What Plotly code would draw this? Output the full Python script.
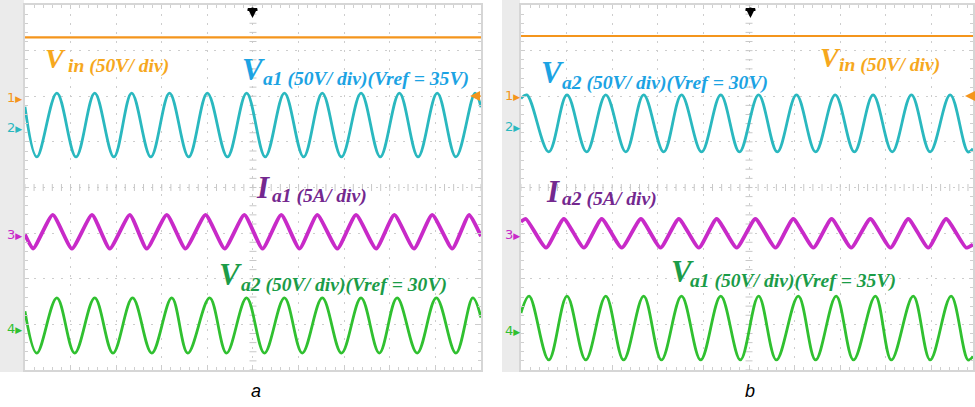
import plotly.graph_objects as go

W, H = 975, 407

# ---------------- data (time / level in scope divisions) ----------------
# Panel (a): time axis 0..10 div, level axis 0..8 div
a_vin_level = 7.29
a_va1_peaks = [0.70, 1.53, 2.34, 3.17, 4.00, 4.86, 5.69, 6.52, 7.37, 8.21, 9.04, 9.87]
a_va1_troughs = [0.26, 1.12, 1.95, 2.76, 3.59, 4.44, 5.27, 6.11, 6.94, 7.79, 8.62, 9.45]
a_va1_hi, a_va1_lo, a_va1_start, a_va1_end = 6.07, 4.67, 5.77, 5.76

a_ia1_peaks = [0.61, 1.47, 2.30, 3.11, 3.96, 4.81, 5.62, 6.41, 7.26, 8.10, 8.93, 9.74]
a_ia1_troughs = [0.18, 1.03, 1.86, 2.67, 3.52, 4.38, 5.21, 6.02, 6.85, 7.70, 8.53, 9.37]
a_ia1_hi, a_ia1_lo, a_ia1_start, a_ia1_end = 3.40, 2.66, 2.97, 2.93

a_va2_peaks = [0.70, 1.53, 2.36, 3.22, 4.05, 4.86, 5.69, 6.52, 7.37, 8.16, 9.02, 9.82]
a_va2_troughs = [0.26, 1.09, 1.93, 2.78, 3.57, 4.42, 5.25, 6.08, 6.94, 7.77, 8.60, 9.45]
a_va2_hi, a_va2_lo, a_va2_start, a_va2_end = 1.58, 0.37, 1.29, 1.15

# Panel (b): time axis 0..9.91 div visible
b_t_end = 9.91
b_vin_level = 7.32
b_va2_peaks = [0.13, 1.01, 1.86, 2.69, 3.52, 4.38, 5.21, 6.04, 6.89, 7.72, 8.56, 9.41]
b_va2_troughs = [0.61, 1.44, 2.30, 3.13, 3.96, 4.79, 5.62, 6.46, 7.31, 8.14, 8.97, 9.80]
b_va2_hi, b_va2_lo, b_va2_start, b_va2_end = 6.03, 4.78, 5.95, 4.85

b_ia2_peaks = [0.11, 0.94, 1.77, 2.63, 3.46, 4.29, 5.14, 5.97, 6.81, 7.66, 8.49, 9.32]
b_ia2_troughs = [0.55, 1.38, 2.21, 3.06, 3.90, 4.73, 5.58, 6.41, 7.24, 8.10, 8.93, 9.76]
b_ia2_hi, b_ia2_lo, b_ia2_start, b_ia2_end = 3.31, 2.68, 3.25, 2.75

b_va1_peaks = [0.18, 1.01, 1.86, 2.69, 3.52, 4.38, 5.21, 6.08, 6.91, 7.77, 8.60, 9.43]
b_va1_troughs = [0.61, 1.42, 2.25, 3.08, 3.94, 4.81, 5.60, 6.46, 7.29, 8.12, 8.97, 9.80]
b_va1_hi, b_va1_lo, b_va1_start, b_va1_end = 1.62, 0.22, 1.25, 0.30

channel_names = ["1", "2", "3", "4"]
captions = ["a", "b"]

# ---------------- styling ----------------
C_ORANGE = "#f4951c"
C_CYAN = "#2ab8bf"
C_MAGENTA = "#c82ac8"
C_GREEN = "#30c030"
T_ORANGE = "#f6a81e"
T_BLUE = "#1ca3e3"
T_PURPLE = "#74288f"
T_GREEN = "#1b9c48"


def px_x(p):
    return p / W


def px_y(p):
    return 1 - p / H


def wave(start, peaks, troughs, hi, lo, end, t_end):
    pts = [(0.0, start)] + [(t, hi) for t in peaks] + [(t, lo) for t in troughs] + [(t_end, end)]
    pts.sort()
    return [p[0] for p in pts], [p[1] for p in pts]


fig = go.Figure()

# centre-line tick marks of the graticule (drawn first, under the traces)
for xa, ya, tmax in (("x", "y", 10), ("x2", "y2", b_t_end)):
    n = int(tmax / 0.2) + 1
    fig.add_trace(go.Scatter(x=[i * 0.2 for i in range(n)], y=[4] * n, xaxis=xa, yaxis=ya,
                             mode="markers", marker=dict(symbol="line-ns", size=5,
                             line=dict(width=1, color="#c8c8c8")), hoverinfo="skip", showlegend=False))
    fig.add_trace(go.Scatter(x=[5] * 41, y=[i * 0.2 for i in range(41)], xaxis=xa, yaxis=ya,
                             mode="markers", marker=dict(symbol="line-ew", size=5,
                             line=dict(width=1, color="#c8c8c8")), hoverinfo="skip", showlegend=False))


def add_wave(xa, ya, t, v, color, width, shape, smoothing=1.0):
    fig.add_trace(go.Scatter(x=t, y=v, xaxis=xa, yaxis=ya, mode="lines",
                             line=dict(color=color, width=width, shape=shape, smoothing=smoothing),
                             hoverinfo="skip", showlegend=False))


# panel a
add_wave("x", "y", [0, 10], [a_vin_level, a_vin_level], C_ORANGE, 2.2, "linear")
t, v = wave(a_va1_start, a_va1_peaks, a_va1_troughs, a_va1_hi, a_va1_lo, a_va1_end, 10)
add_wave("x", "y", t, v, C_CYAN, 2.8, "spline")
t, v = wave(a_ia1_start, a_ia1_peaks, a_ia1_troughs, a_ia1_hi, a_ia1_lo, a_ia1_end, 10)
add_wave("x", "y", t, v, C_MAGENTA, 3.8, "spline", 0.5)
t, v = wave(a_va2_start, a_va2_peaks, a_va2_troughs, a_va2_hi, a_va2_lo, a_va2_end, 10)
add_wave("x", "y", t, v, C_GREEN, 2.8, "spline")

# panel b
add_wave("x2", "y2", [0, b_t_end], [b_vin_level, b_vin_level], C_ORANGE, 2.2, "linear")
t, v = wave(b_va2_start, b_va2_peaks, b_va2_troughs, b_va2_hi, b_va2_lo, b_va2_end, b_t_end)
add_wave("x2", "y2", t, v, C_CYAN, 2.8, "spline")
t, v = wave(b_ia2_start, b_ia2_peaks, b_ia2_troughs, b_ia2_hi, b_ia2_lo, b_ia2_end, b_t_end)
add_wave("x2", "y2", t, v, C_MAGENTA, 3.8, "spline", 0.5)
t, v = wave(b_va1_start, b_va1_peaks, b_va1_troughs, b_va1_hi, b_va1_lo, b_va1_end, b_t_end)
add_wave("x2", "y2", t, v, C_GREEN, 2.8, "spline")

# ---------------- axes (scope graticule) ----------------
ax_common = dict(showgrid=True, gridcolor="#cdcdcd", griddash="2px,7px", gridwidth=1,
                 dtick=1, tick0=0, showticklabels=False, zeroline=False,
                 showline=True, linecolor="#d6d6d6", linewidth=2, mirror="ticks",
                 ticks="inside", ticklen=4, tickcolor="#cccccc",
                 minor=dict(dtick=0.2, ticks="inside", ticklen=3, tickcolor="#cfcfcf", showgrid=False),
                 fixedrange=True)

ydom = [px_y(370), px_y(5)]
fig.update_layout(
    xaxis=dict(domain=[px_x(25), px_x(482)], range=[0, 10], anchor="y", **ax_common),
    yaxis=dict(domain=ydom, range=[0, 8], anchor="x", **ax_common),
    xaxis2=dict(domain=[px_x(522), 1.0], range=[0, b_t_end], anchor="y2", **ax_common),
    yaxis2=dict(domain=ydom, range=[0, 8], anchor="x2", **ax_common),
    width=W, height=H, margin=dict(l=0, r=0, t=0, b=0),
    paper_bgcolor="white", plot_bgcolor="white", showlegend=False,
)

shapes = []
# grey side strips
for x0, x1 in ((0, 24), (503, 521)):
    shapes.append(dict(type="rect", xref="paper", yref="paper", x0=px_x(x0), x1=px_x(x1),
                       y0=px_y(372), y1=1, fillcolor="#ebebeb", line=dict(width=0), layer="below"))
# trigger arrow cross bars
for xc in (253, 752):
    shapes.append(dict(type="line", xref="paper", yref="paper", x0=px_x(xc - 5), x1=px_x(xc + 5),
                       y0=px_y(10), y1=px_y(10), line=dict(color="black", width=2)))
fig.update_layout(shapes=shapes)

ann = []


def label(big, sub, xb, yb, xs, ys, color, big_size=31, sub_size=19.6):
    ann.append(dict(x=px_x(xb), y=px_y(yb - 0.34 * big_size), xref="paper", yref="paper",
                    xanchor="left", yanchor="middle", showarrow=False,
                    text=f"<b><i>{big}</i></b>",
                    font=dict(family="Liberation Serif", size=big_size, color=color)))
    ann.append(dict(x=px_x(xs), y=px_y(ys - 0.34 * sub_size), xref="paper", yref="paper",
                    xanchor="left", yanchor="middle", showarrow=False,
                    text=f"<b><i>{sub}</i></b>",
                    font=dict(family="Liberation Serif", size=sub_size, color=color)))


# panel a labels
label("V", "in (50V/ div)", 43, 68, 66, 73, T_ORANGE, big_size=28)
label("V", "a1 (50V/ div)(Vref = 35V)", 240, 80, 262, 86, T_BLUE)
label("I", "a1 (5A/ div)", 255, 198, 271, 203, T_PURPLE)
label("V", "a2 (50V/ div)(Vref = 30V)", 217, 285, 239, 292, T_GREEN)
# panel b labels
label("V", "a2 (50V/ div)(Vref = 30V)", 540, 83, 561, 90, T_BLUE)
label("V", "in (50V/ div)", 820, 67, 839, 72, T_ORANGE, big_size=28)
label("I", "a2 (5A/ div)", 545, 202, 561, 206, T_PURPLE)
label("V", "a1 (50V/ div)(Vref = 35V)", 670, 282, 689, 288, T_GREEN)

# channel markers
ch_colors = [C_ORANGE, C_CYAN, C_MAGENTA, C_GREEN]
for xm, ys in ((15, (97, 127, 235, 328)), (514, (96, 126, 235, 330))):
    for name, yy, col in zip(channel_names, ys, ch_colors):
        ann.append(dict(x=px_x(xm), y=px_y(yy), xref="paper", yref="paper", showarrow=False,
                        xanchor="center", yanchor="middle",
                        text=f"{name}<span style='font-size:9px'>▶</span>",
                        font=dict(family="DejaVu Sans", size=13, color=col)))

# trigger level arrows (orange, right side) and trigger position (black, top)
for xa in (471, 967):
    ann.append(dict(x=px_x(xa), y=px_y(96), xref="paper", yref="paper", ax=12, ay=0, text="",
                    showarrow=True, arrowhead=2, arrowsize=1, arrowwidth=2, arrowcolor=C_ORANGE))
for xc in (253, 752):
    ann.append(dict(x=px_x(xc), y=px_y(18), xref="paper", yref="paper", ax=0, ay=-12, text="",
                    showarrow=True, arrowhead=2, arrowsize=1, arrowwidth=2, arrowcolor="black"))

# captions
for cap, xc in zip(captions, (257, 752)):
    ann.append(dict(x=px_x(xc), y=px_y(391), xref="paper", yref="paper", showarrow=False,
                    xanchor="center", yanchor="middle", text=f"<i>{cap}</i>",
                    font=dict(family="Liberation Sans", size=18, color="black")))

fig.update_layout(annotations=ann)

fig.write_html("out.html", config={"displayModeBar": False},
               post_script="document.body.style.margin='0px';document.body.style.overflow='hidden';")
